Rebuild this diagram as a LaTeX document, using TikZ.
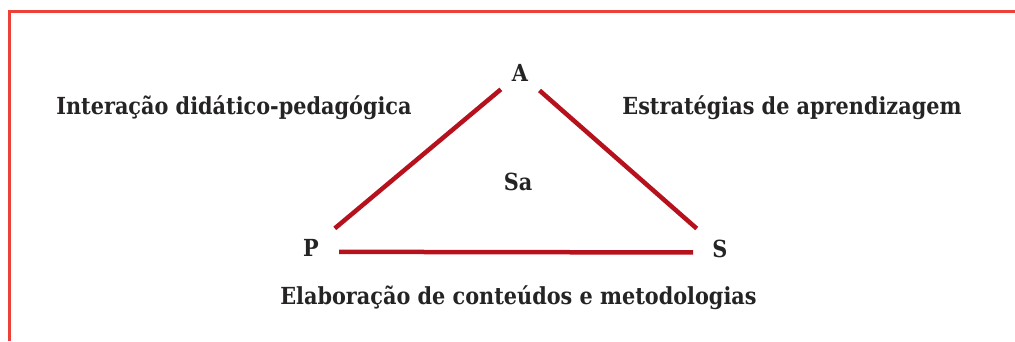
\documentclass[tikz,border=0pt]{standalone}
\usepackage{fontspec}
\setmainfont{DejaVu Serif}[FakeStretch=0.885]
\definecolor{framered}{HTML}{EC4138}
\definecolor{edgered}{HTML}{B5121D}
\definecolor{inkgray}{HTML}{262324}
\begin{document}
\begin{tikzpicture}[x=1pt, y=-1pt,
  vertex/.style={font=\bfseries\fontsize{23.5}{26}\selectfont, text=inkgray, inner sep=0pt, text height=17pt, text depth=0pt},
  lbl/.style={font=\bfseries\fontsize{23.5}{26}\selectfont, text=inkgray, inner sep=0pt, anchor=base},
  side/.style={edgered, line width=4.5pt}]
  \useasboundingbox (0,0) rectangle (1015,341);
  \draw[framered, line width=3pt] (9.8,341) -- (9.8,11.5) -- (1015,11.5);
  \node[vertex] at (520,73.3) (A) {A};
  \node[vertex] at (311,248.3) (P) {P};
  \node[vertex] at (720,249) (S) {S};
  \node[lbl] at (518,190) (Sa) {Sa};
  \node[lbl] at (234,114.3) (inter) {Interação didático-pedagógica};
  \node[lbl] at (792,114.3) (estr) {Estratégias de aprendizagem};
  \node[lbl] at (518.5,304.3) (elab) {Elaboração de conteúdos e metodologias};
  \draw[side, shorten <=31pt, shorten >=25pt] (P.center) -- (A.center);
  \draw[side, shorten <=26pt, shorten >=31pt] (A.center) -- (S.center);
  \draw[side, shorten <=28pt, shorten >=27pt] ([yshift=-3.5pt]P.center) -- ([yshift=-3.5pt]S.center);
\end{tikzpicture}
\end{document}
